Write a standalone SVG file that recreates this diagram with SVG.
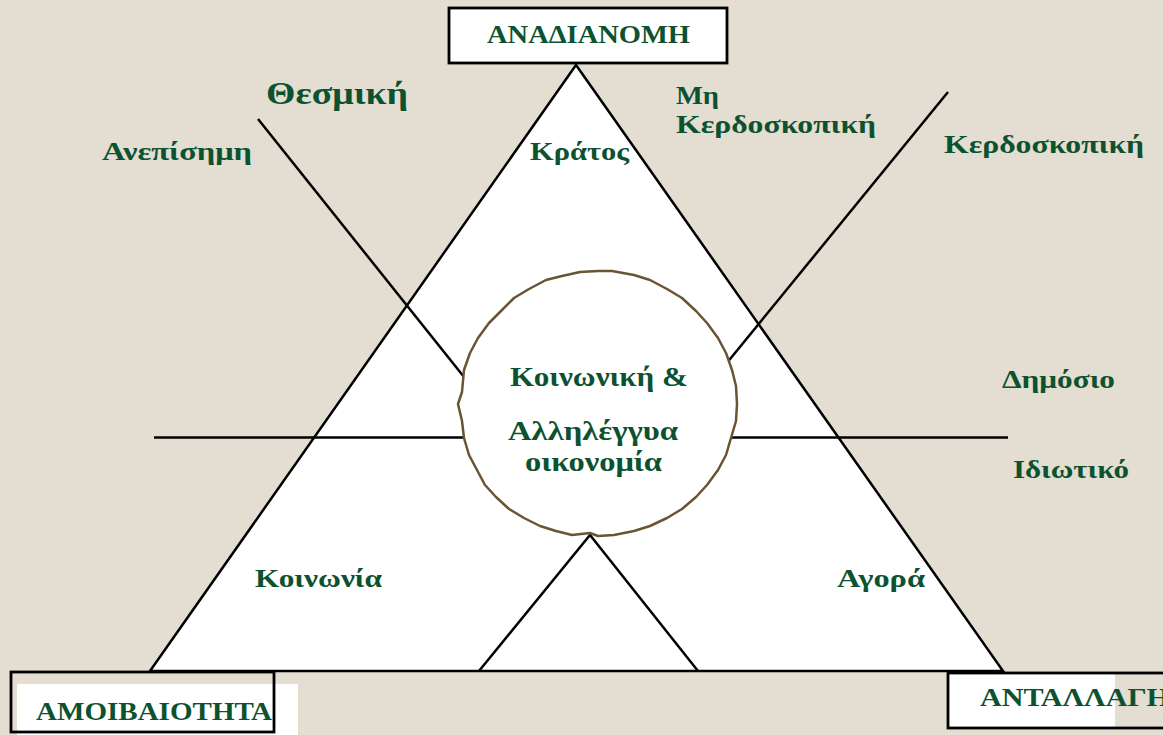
<svg xmlns="http://www.w3.org/2000/svg" width="1163" height="735" viewBox="0 0 1163 735">
<style>
.t{font-family:"Liberation Serif","DejaVu Serif",serif;font-weight:bold;fill:#0d5230;font-size:25px}
.c{font-size:27px}
.ln{stroke:#000;stroke-width:2.5;fill:none}
.box{stroke:#000;stroke-width:2.8;fill:none}
</style>
<rect x="0" y="0" width="1163" height="735" fill="#e3ddd2"/>
<g id="triangle">
<polygon points="576,65 150,671 1003,671" fill="#fff" stroke="#000" stroke-width="2.5" stroke-linejoin="miter"/>
</g>
<g id="connectors">
<line class="ln" x1="154" y1="437.5" x2="1008" y2="437.5"/>
<line class="ln" x1="258" y1="119" x2="468" y2="382"/>
<line class="ln" x1="948" y1="92" x2="726" y2="364"/>
<polyline class="ln" points="479,671 590,535 698,671"/>
</g>
<g id="circle">
<path d="M598,271 L612,271 L634,275 L650,280 L667,289 L682,298 L696,311 L707,323 L718,338 L726,353 L732,370 L736,386 L737,404 L736,421 L731,438 L726,455 L718,470 L707,485 L696,497 L682,509 L667,518 L650,526 L634,531 L614,535 L598,536 L590,533 L572,535 L556,531 L540,526 L524,518 L509,509 L496,497 L485,485 L477,470 L469,455 L464,438 L462,421 L458,404 L462,392 L464,370 L470,353 L478,338 L489,323 L501,311 L514,298 L529,289 L546,280 L562,276 L580,272 Z" fill="#fff" stroke="#6b5433" stroke-width="2.5" stroke-linejoin="round"/>
<text class="t c" x="510" y="386" textLength="178" lengthAdjust="spacingAndGlyphs">Κοινωνική &amp;</text>
<text class="t c" x="508" y="440" textLength="170" lengthAdjust="spacingAndGlyphs">Αλληλέγγυα</text>
<text class="t c" x="525" y="471" textLength="137" lengthAdjust="spacingAndGlyphs">οικονομία</text>
</g>
<g id="anadianomi">
<rect x="449" y="8" width="278" height="55" fill="#fff" stroke="#000" stroke-width="2.8"/>
<text class="t" x="487" y="43" textLength="203" lengthAdjust="spacingAndGlyphs">ΑΝΑΔΙΑΝΟΜΗ</text>
</g>
<g id="amoivaiotita">
<rect x="17" y="684" width="281" height="51" fill="#fff"/>
<rect class="box" x="11" y="672" width="263" height="60"/>
<text class="t" x="36" y="720" textLength="236" lengthAdjust="spacingAndGlyphs">ΑΜΟΙΒΑΙΟΤΗΤΑ</text>
</g>
<g id="antallagi">
<rect x="948" y="673" width="167" height="55" fill="#fff"/>
<rect class="box" x="948" y="673" width="230" height="55"/>
<text class="t" x="980" y="706" textLength="190" lengthAdjust="spacingAndGlyphs">ΑΝΤΑΛΛΑΓΗ</text>
</g>
<g id="labels">
<text class="t" x="266" y="104" style="font-size:31px" textLength="142" lengthAdjust="spacingAndGlyphs">Θεσμική</text>
<text class="t" x="102" y="160" textLength="150" lengthAdjust="spacingAndGlyphs">Ανεπίσημη</text>
<text class="t" x="530" y="160" textLength="99" lengthAdjust="spacingAndGlyphs">Κράτος</text>
<text class="t" x="676" y="104" textLength="43" lengthAdjust="spacingAndGlyphs">Μη</text>
<text class="t" x="676" y="133" textLength="200" lengthAdjust="spacingAndGlyphs">Κερδοσκοπική</text>
<text class="t" x="944" y="153" textLength="200" lengthAdjust="spacingAndGlyphs">Κερδοσκοπική</text>
<text class="t" x="1002" y="388" textLength="113" lengthAdjust="spacingAndGlyphs">Δημόσιο</text>
<text class="t" x="1013" y="478" textLength="116" lengthAdjust="spacingAndGlyphs">Ιδιωτικό</text>
<text class="t" x="255" y="587" textLength="127" lengthAdjust="spacingAndGlyphs">Κοινωνία</text>
<text class="t" x="837" y="587" textLength="88" lengthAdjust="spacingAndGlyphs">Αγορά</text>
</g>
</svg>
